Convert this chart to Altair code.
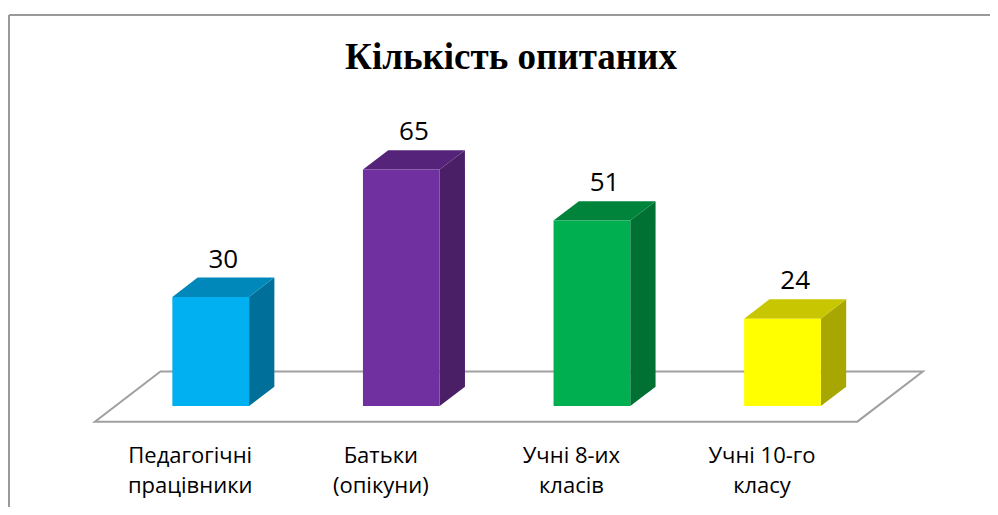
import altair as alt
import pandas as pd

# ---- data ----
categories = ["Педагогічні\nпрацівники", "Батьки\n(опікуни)", "Учні 8-их\nкласів", "Учні 10-го\nкласу"]
values = [30, 65, 51, 24]
front_colors = ["#00B0F0", "#7030A0", "#00B050", "#FFFF00"]
top_colors = ["#0088BA", "#55247A", "#00843C", "#C8C600"]
side_colors = ["#00709A", "#4A1F66", "#007033", "#A8A600"]
title_text = "Кількість опитаних"

# ---- style constants (3D look) ----
BAR_W = 0.4025          # bar width as fraction of category slot
DX = 0.1327             # depth offset in x units
DY = 5.317              # depth offset in value units
FLOOR_D = (-0.81, 1.78) # floor front/back in bar-depth multiples
X_DOMAIN = [-0.5635, 4.5886]
Y_DOMAIN = [-27.77, 109.43]
W, H = 982, 499

n = len(categories)
centers = [i + 0.5 for i in range(n)]

front = pd.DataFrame({
    "cat": categories, "value": values, "fill": front_colors,
    "xl": [c - BAR_W / 2 for c in centers],
    "xr": [c + BAR_W / 2 for c in centers],
    "y0": [0] * n,
})

side_rows, top_rows = [], []
for c, v, cat, sc, tc in zip(centers, values, categories, side_colors, top_colors):
    xl, xr = c - BAR_W / 2, c + BAR_W / 2
    for t in (0, 1):
        side_rows.append({"cat": cat, "fill": sc, "x": xr + t * DX,
                          "y": v + t * DY, "y2": t * DY})
        top_rows.append({"cat": cat, "fill": tc, "y": v + t * DY,
                         "x": xl + t * DX, "x2": xr + t * DX})
side = pd.DataFrame(side_rows)
top = pd.DataFrame(top_rows)

floor = pd.DataFrame({
    "y": [d * DY for d in FLOOR_D],
    "x": [0 + d * DX for d in FLOOR_D],
    "x2": [n + d * DX for d in FLOOR_D],
})

vlabels = pd.DataFrame({"x": [c + DX / 2 for c in centers],
                        "y": [v + DY for v in values],
                        "label": [str(v) for v in values]})
clabels = pd.DataFrame({"x": [c + FLOOR_D[0] * DX for c in centers],
                        "y": [FLOOR_D[0] * DY] * n,
                        "label": categories})

xs = alt.Scale(domain=X_DOMAIN, nice=False, zero=False)
ys = alt.Scale(domain=Y_DOMAIN, nice=False, zero=False)

one = alt.Data(values=[{"k": 1}])
border_top = alt.Chart(one).mark_rule(color="#9A9A9A", strokeWidth=2).encode(
    x=alt.value(1), x2=alt.value(W), y=alt.value(7))
border_left = alt.Chart(one).mark_rule(color="#9A9A9A", strokeWidth=2).encode(
    x=alt.value(1), y=alt.value(7), y2=alt.value(H))

floor_l = alt.Chart(floor).mark_area(orient="horizontal", fill="white",
                                     stroke="#A0A0A0", strokeWidth=2).encode(
    y=alt.Y("y:Q", scale=ys, axis=None),
    x=alt.X("x:Q", scale=xs, axis=None, stack=None),
    x2="x2:Q",
)

side_l = alt.Chart(side).mark_area(orient="vertical").encode(
    x=alt.X("x:Q", scale=xs, axis=None),
    y=alt.Y("y:Q", scale=ys, axis=None, stack=None),
    y2="y2:Q",
    fill=alt.Fill("fill:N", scale=None),
    detail="cat:N",
)

top_l = alt.Chart(top).mark_area(orient="horizontal").encode(
    y=alt.Y("y:Q", scale=ys, axis=None),
    x=alt.X("x:Q", scale=xs, axis=None, stack=None),
    x2="x2:Q",
    fill=alt.Fill("fill:N", scale=None),
    detail="cat:N",
)

front_l = alt.Chart(front).mark_rect().encode(
    x=alt.X("xl:Q", scale=xs, axis=None),
    x2="xr:Q",
    y=alt.Y("y0:Q", scale=ys, axis=None),
    y2="value:Q",
    fill=alt.Fill("fill:N", scale=None),
)

vlab_l = alt.Chart(vlabels).mark_text(font="Open Sans", fontSize=26, color="black",
                                      align="center", baseline="alphabetic", dy=-10).encode(
    x=alt.X("x:Q", scale=xs, axis=None),
    y=alt.Y("y:Q", scale=ys, axis=None),
    text="label:N",
)

clab_l = alt.Chart(clabels).mark_text(font="Open Sans", fontSize=22, color="black",
                                      align="center", baseline="alphabetic", dy=41,
                                      lineBreak="\n", lineHeight=30).encode(
    x=alt.X("x:Q", scale=xs, axis=None),
    y=alt.Y("y:Q", scale=ys, axis=None),
    text="label:N",
)

chart = alt.layer(border_top, border_left, floor_l, side_l, top_l, front_l, vlab_l, clab_l).properties(
    width=W, height=H, padding=0, autosize="none",
    title=alt.TitleParams(text=title_text, font="Liberation Serif", fontSize=37,
                          fontWeight="bold", color="black", anchor="middle",
                          offset=-69, dx=12),
).configure_view(stroke=None)

chart.save("out.html", embed_options={"renderer": "svg", "actions": False})
